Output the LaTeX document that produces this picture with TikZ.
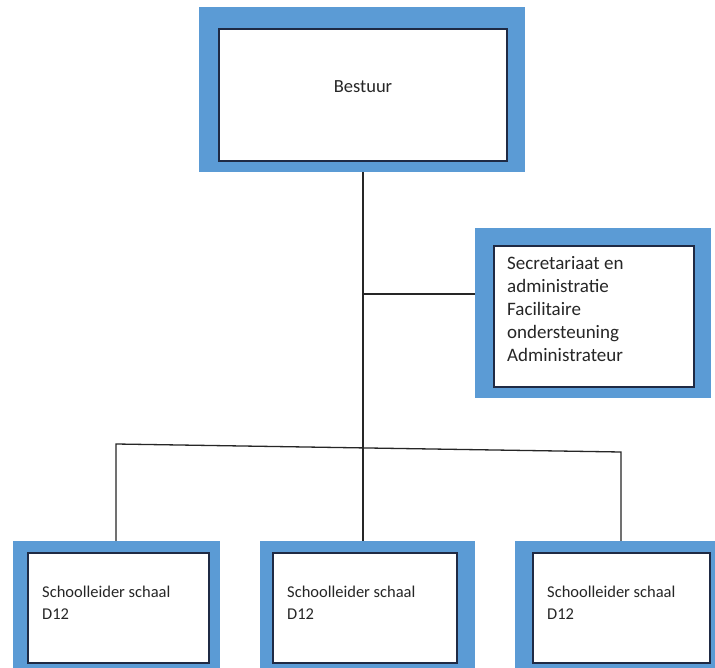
\documentclass[tikz,border=0pt]{standalone}
\usepackage{fontspec}
\setmainfont{Carlito}
\definecolor{boxblue}{HTML}{5B9BD5}
\definecolor{edgecol}{HTML}{1F2A44}
\definecolor{txtcol}{HTML}{262626}
\begin{document}
\begin{tikzpicture}[x=1pt,y=-1pt,
  outerbox/.style={rectangle, fill=boxblue, draw=none, inner sep=0pt},
  innerbox/.style={rectangle, fill=white, draw=edgecol, line width=1.2pt, inner sep=0pt},
  conn/.style={draw=black!85, line width=1.3pt},
  smalltext/.style={font=\fontsize{16.5}{22}\selectfont, align=left, anchor=north west, inner sep=0pt, text=txtcol},
  sidetext/.style={font=\fontsize{19}{23}\selectfont, align=left, anchor=north west, inner sep=0pt, text=txtcol}]
\useasboundingbox (0,0) rectangle (715,668);
\clip (0,0) rectangle (715,668);
\fill[white] (0,0) rectangle (715,668);

% Bestuur
\node[outerbox, minimum width=326pt, minimum height=165pt] (bestuurO) at (362,89.5) {};
\node[innerbox, minimum width=288pt, minimum height=132pt] (bestuurI) at (363,95) {};
\node[font=\fontsize{18.5}{22}\selectfont, text=txtcol, inner sep=0pt] (bestuurT) at (363,87) {Bestuur};

% side box
\node[outerbox, minimum width=236pt, minimum height=170pt] (sideO) at (593,313) {};
\node[innerbox, minimum width=200pt, minimum height=141pt] (sideI) at (594,316.5) {};
\node[sidetext] (sideT) at (507,256) {Secretariaat en\\administratie\\Facilitaire\\ondersteuning\\Administrateur};

% bottom boxes
\node[outerbox, minimum width=207pt, minimum height=150pt] (b1O) at (116.5,616) {};
\node[innerbox, minimum width=181pt, minimum height=110pt] (b1I) at (118.5,608) {};
\node[smalltext] (b1T) at (42,586) {Schoolleider schaal\\D12};

\node[outerbox, minimum width=215pt, minimum height=150pt] (b2O) at (367.5,616) {};
\node[innerbox, minimum width=184pt, minimum height=110pt] (b2I) at (365,608) {};
\node[smalltext] (b2T) at (287,586) {Schoolleider schaal\\D12};

\node[outerbox, minimum width=220pt, minimum height=150pt] (b3O) at (625,616) {};
\node[innerbox, minimum width=177pt, minimum height=110pt] (b3I) at (621.5,608) {};
\node[smalltext] (b3T) at (547,586) {Schoolleider schaal\\D12};

% connectors
\coordinate (jside) at (363,294);
\coordinate (hl) at (116,444);
\coordinate (hr) at (621,452);
\draw[conn] (bestuurO.south -| jside) -- (jside |- b2O.north);
\draw[conn] (jside) -- (sideO.west |- jside);
\draw[conn] (b1O.north -| hl) -- (hl) -- (hr) -- (b3O.north -| hr);
\end{tikzpicture}
\end{document}
